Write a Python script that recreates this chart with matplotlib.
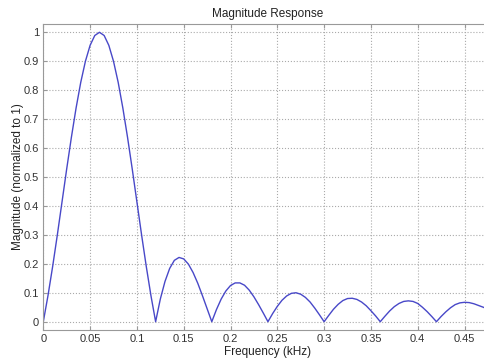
import matplotlib
matplotlib.use('Agg')
import matplotlib.pyplot as plt
import numpy as np

plt.rcParams['font.family'] = ['Liberation Sans', 'DejaVu Sans']

# frequency samples (kHz), every 0.005
freq = [round(i * 0.005, 3) for i in range(97)]

# magnitude, one value per sample
main_lobe = [0.0, 0.090, 0.191, 0.300, 0.414, 0.528, 0.637, 0.738, 0.827, 0.900, 0.955, 0.989,
             1.0, 0.989, 0.955, 0.900, 0.827, 0.738, 0.637, 0.528, 0.414, 0.300, 0.191, 0.090]
lobe1 = [0.0, 0.078, 0.139, 0.184, 0.212, 0.222, 0.217, 0.199, 0.170, 0.133, 0.090, 0.045]
lobe2 = [0.0, 0.042, 0.078, 0.106, 0.125, 0.134, 0.134, 0.126, 0.109, 0.086, 0.059, 0.030]
lobe3 = [0.0, 0.028, 0.053, 0.074, 0.089, 0.098, 0.100, 0.095, 0.084, 0.068, 0.047, 0.024]
lobe4 = [0.0, 0.022, 0.043, 0.060, 0.073, 0.080, 0.081, 0.077, 0.068, 0.055, 0.038, 0.020]
lobe5 = [0.0, 0.019, 0.037, 0.052, 0.063, 0.070, 0.072, 0.070, 0.063, 0.050, 0.035, 0.018]
lobe6 = [0.0, 0.018, 0.034, 0.048, 0.059, 0.065, 0.067, 0.066, 0.062, 0.056, 0.050, 0.043, 0.036]
magnitude = main_lobe + lobe1 + lobe2 + lobe3 + lobe4 + lobe5 + lobe6

xticks = [0, 0.05, 0.1, 0.15, 0.2, 0.25, 0.3, 0.35, 0.4, 0.45]
xticklabels = ['0', '0.05', '0.1', '0.15', '0.2', '0.25', '0.3', '0.35', '0.4', '0.45']
yticks = [0, 0.1, 0.2, 0.3, 0.4, 0.5, 0.6, 0.7, 0.8, 0.9, 1]
yticklabels = ['0', '0.1', '0.2', '0.3', '0.4', '0.5', '0.6', '0.7', '0.8', '0.9', '1']

fig = plt.figure(figsize=(4.85, 3.58), dpi=100)
ax = fig.add_axes([43.3 / 485, 1 - 330 / 358, (492.6 - 43.3) / 485, 306 / 358])

ax.plot(freq, magnitude, color='#4848c8', linewidth=1.0)

ax.set_xlim(0, 0.48)
ax.set_ylim(-0.0287, 1.0287)
ax.set_xticks(xticks)
ax.set_xticklabels(xticklabels)
ax.set_yticks(yticks)
ax.set_yticklabels(yticklabels)
ax.tick_params(direction='in', length=3, labelsize=8, colors='#999999',
               labelcolor='#333333', top=True, right=True, pad=3)
ax.grid(True, linestyle=':', color='#aaaaaa', linewidth=0.8)
for s in ax.spines.values():
    s.set_color('#999999')
    s.set_linewidth(0.8)

ax.set_title('Magnitude Response', fontsize=8.5, color='#222222', pad=5)
ax.set_xlabel('Frequency (kHz)', fontsize=8.5, color='#222222', labelpad=1)
ax.set_ylabel('Magnitude (normalized to 1)', fontsize=8.5, color='#222222', labelpad=0)

fig.savefig('out.png', dpi=100)
